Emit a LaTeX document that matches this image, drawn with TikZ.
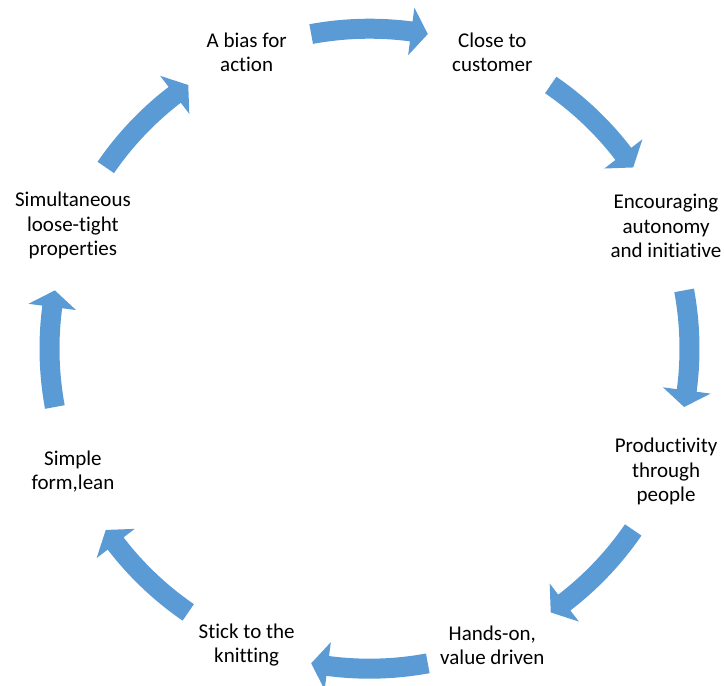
\documentclass[tikz,border=0pt]{standalone}
\usepackage{fontspec}
\setmainfont{Carlito}[Ligatures=NoCommon]
\definecolor{arrowblue}{HTML}{5B9BD5}

\begin{document}
\begin{tikzpicture}[x=1pt, y=1pt, line join=round,
    txt/.style={align=center, inner sep=0pt, font=\fontsize{21}{24.5}\selectfont}]
    \useasboundingbox (-369.5,-337.3) rectangle (354.5,348.7);

    % 八个要点，圆周半径 321
    \node[txt] (bias)      at (112.5:321)  {A bias for\\action};
    \node[txt] (customer)  at (67.5:321)   {Close to\\customer};
    \node[txt] (autonomy)  at (22.5:321)   {Encouraging\\autonomy\\and initiative};
    \node[txt] (people)    at (-22.5:321)  {Productivity\\through\\people};
    \node[txt] (values)    at (-67.5:321)  {Hands-on,\\value driven};
    \node[txt] (knitting)  at (-112.5:321) {Stick to the\\knitting};
    \node[txt] (lean)      at (-157.5:321) {Simple\\form,lean};
    \node[txt] (loosetight) at (157.5:321) {Simultaneous\\loose-tight\\properties};

    % 弧形箭头（顺时针），\m 为箭头中点角度
    \foreach \m in {90,45,...,-225} {
        \fill[arrowblue] (\m+10.5:330) arc[start angle=\m+10.5, end angle=\m-7.5, radius=330]
            -- (\m-7.5:344) -- (\m-10.5:320) -- (\m-7.5:296) -- (\m-7.5:310)
            arc[start angle=\m-7.5, end angle=\m+10.5, radius=310] -- cycle;
    }
\end{tikzpicture}
\end{document}
